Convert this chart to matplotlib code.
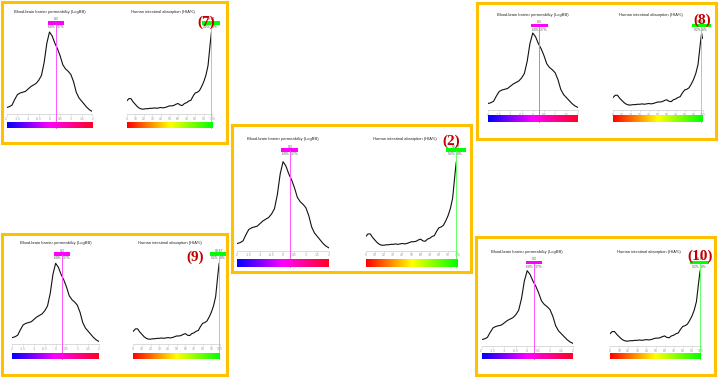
import matplotlib
matplotlib.use('Agg')
import matplotlib.pyplot as plt
import matplotlib.transforms as mtransforms
from matplotlib.patches import Rectangle
from matplotlib.colors import LinearSegmentedColormap

W, H = 719, 377

# density curves (relative height, peak = 1)
logbb_x = [-2.0, -1.875, -1.75, -1.625, -1.5, -1.375, -1.25, -1.125, -1.0,
           -0.875, -0.75, -0.625, -0.5, -0.375, -0.25, -0.125, 0.0,
           0.125, 0.25, 0.375, 0.5, 0.625, 0.75, 0.875, 1.0,
           1.125, 1.25, 1.375, 1.5, 1.625, 1.75, 1.875, 2.0]
logbb_y = [0.06, 0.07, 0.09, 0.16, 0.22, 0.24, 0.25, 0.26, 0.29,
           0.32, 0.34, 0.36, 0.40, 0.46, 0.62, 0.86, 1.00,
           0.95, 0.86, 0.79, 0.70, 0.59, 0.54, 0.51, 0.47,
           0.38, 0.25, 0.18, 0.14, 0.10, 0.06, 0.03, 0.01]

hia_x = [0, 2.5, 5, 7.5, 10, 12.5, 15, 17.5, 20, 22.5, 25, 27.5, 30, 32.5,
         35, 37.5, 40, 42.5, 45, 47.5, 50, 52.5, 55, 57.5, 60, 62.5, 65,
         67.5, 70, 72.5, 75, 77.5, 80, 82.5, 85, 87.5, 90, 92.5, 95, 97.5,
         99, 100]
hia_y = [0.14, 0.17, 0.17, 0.13, 0.10, 0.07, 0.05, 0.04, 0.04, 0.045, 0.045,
         0.05, 0.05, 0.055, 0.05, 0.055, 0.06, 0.055, 0.06, 0.07, 0.08, 0.08,
         0.085, 0.10, 0.11, 0.09, 0.085, 0.11, 0.12, 0.14, 0.15, 0.20, 0.24,
         0.25, 0.27, 0.32, 0.38, 0.46, 0.58, 0.85, 1.0, 0.93]

logbb_ticks = [-2, -1.5, -1, -0.5, 0, 0.5, 1, 1.5, 2]
logbb_labels = ['-2', '-1.5', '-1', '-0.5', '0', '0.5', '1', '1.5', '2']
hia_ticks = [0, 10, 20, 30, 40, 50, 60, 70, 80, 90, 100]
hia_labels = ['0', '10', '20', '30', '40', '50', '60', '70', '80', '90', '100']

logbb_value = 0.3
logbb_value_txt = '0.3'
logbb_split = ['60%', '37%']
hia_value = 98.67
hia_value_txt = '98.67'
hia_split = ['92%', '8%']

panel_names = ['(7)', '(8)', '(2)', '(9)', '(10)']

# pixel layout of each framed panel (top-left origin)
layout = {
    '(7)': dict(box=(2, 2, 227, 143), bl=6.7, hl=126.7, aw=85.6, ty=12.3, py=32, by=114.3, cb=(121.7, 128.3), lab=(206, 22)),
    '(8)': dict(box=(477, 3, 716, 139), bl=488, hl=613, aw=89.5, ty=15, py=33, by=110, cb=(115, 121.7), lab=(702, 20)),
    '(2)': dict(box=(232, 125, 471, 272), bl=237.3, hl=365.7, aw=91.5, ty=139.3, py=161.7, by=250.7, cb=(259.3, 266.7), lab=(451, 141)),
    '(9)': dict(box=(2, 234, 227, 375), bl=12.3, hl=133.3, aw=86.7, ty=243.3, py=263.3, by=344.3, cb=(352.7, 359.3), lab=(195, 257)),
    '(10)': dict(box=(476, 237, 715, 375), bl=481.7, hl=610, aw=91, ty=251.7, py=270.7, by=346, cb=(352.7, 359.3), lab=(700, 256)),
}

bbb_cmap = LinearSegmentedColormap.from_list('bbb', ['#0000ff', '#ff00ff', '#ff0022'])
hia_cmap = LinearSegmentedColormap.from_list('hia', ['#ff0000', '#ffff00', '#00ff00'])

plt.rcParams['font.family'] = ['Liberation Sans', 'DejaVu Sans']

fig = plt.figure(figsize=(W / 100, H / 100), dpi=100)


def fx(px):
    return px / W


def fy(py):
    return 1 - py / H


def density(left, aw, ty, py, by, cb, xs, ys, lims, ticks, labels, title, title_dx,
            value, value_txt, bar_hw, split, bar_color, line_color, cmap):
    top = py - 3
    off = 2.0
    s = by - off - py
    ax = fig.add_axes([fx(left), fy(by), aw / W, (by - top) / H])
    ax.patch.set_alpha(0)
    ax.plot(xs, ys, color='#111111', lw=0.8)
    for sp in ['top', 'left', 'right']:
        ax.spines[sp].set_visible(False)
    ax.spines['bottom'].set_color('#cccccc')
    ax.spines['bottom'].set_linewidth(0.5)
    ax.set_yticks([])
    ax.set_xticks(ticks)
    ax.set_xticklabels(labels)
    ax.tick_params(axis='x', length=1.5, width=0.4, color='#cccccc', pad=0.4,
                   labelsize=2.4, labelcolor='#999999')

    trans = mtransforms.blended_transform_factory(ax.transData, fig.transFigure)
    ax.plot([value, value], [fy(ty + 12), fy(cb[1])], transform=trans,
            color=line_color, lw=0.7, clip_on=False, zorder=5)
    ax.add_patch(Rectangle((value - bar_hw, fy(ty + 12.3)), 2 * bar_hw, 3.3 / H,
                           transform=trans, color=bar_color, clip_on=False, lw=0))
    ax.text(value, fy(ty + 7.2), value_txt, transform=trans, ha='center', va='center',
            fontsize=2.4, color='#555555')
    ax.text(value, fy(ty + 15), split[0] + ' ', transform=trans, ha='right', va='center',
            fontsize=2.4, color='#555555')
    ax.text(value, fy(ty + 15), ' ' + split[1], transform=trans, ha='left', va='center',
            fontsize=2.4, color='#555555')
    fig.text(fx(left + aw / 2 + title_dx), fy(ty), title, ha='center', va='center',
             fontsize=2.9, color='#222222')

    ax.set_xlim(lims)
    ax.set_ylim(-off / s, (by - top - off) / s)

    cax = fig.add_axes([fx(left), fy(cb[1]), aw / W, (cb[1] - cb[0]) / H])
    cax.imshow([[i / 255 for i in range(256)]], aspect='auto', cmap=cmap,
               extent=[lims[0], lims[1], 0, 1])
    cax.set_xlim(lims)
    cax.axis('off')


for name in panel_names:
    p = layout[name]
    x0, y0, x1, y1 = p['box']
    fig.add_artist(Rectangle((fx(x0), fy(y1)), (x1 - x0) / W, (y1 - y0) / H,
                             transform=fig.transFigure, fill=False,
                             ec='#ffc000', lw=2.2))
    density(p['bl'], p['aw'], p['ty'], p['py'], p['by'], p['cb'],
            logbb_x, logbb_y, (-2, 2), logbb_ticks, logbb_labels,
            'Blood-brain barrier permeability (LogBB)', 0,
            logbb_value, logbb_value_txt, 0.37, logbb_split,
            '#ff00ff', '#ff55ff', bbb_cmap)
    density(p['hl'], p['aw'], p['ty'], p['py'], p['by'], p['cb'],
            hia_x, hia_y, (0, 100), hia_ticks, hia_labels,
            'Human intestinal absorption (HIA%)', -7,
            hia_value, hia_value_txt, 10.5, hia_split,
            '#00ff00', '#66ff66', hia_cmap)
    fig.text(fx(p['lab'][0]), fy(p['lab'][1]), name, ha='center', va='center',
             fontsize=11, fontweight='bold', color='#c00000',
             family=['Liberation Serif', 'DejaVu Serif'], zorder=10)

fig.savefig('out.png', dpi=100)
